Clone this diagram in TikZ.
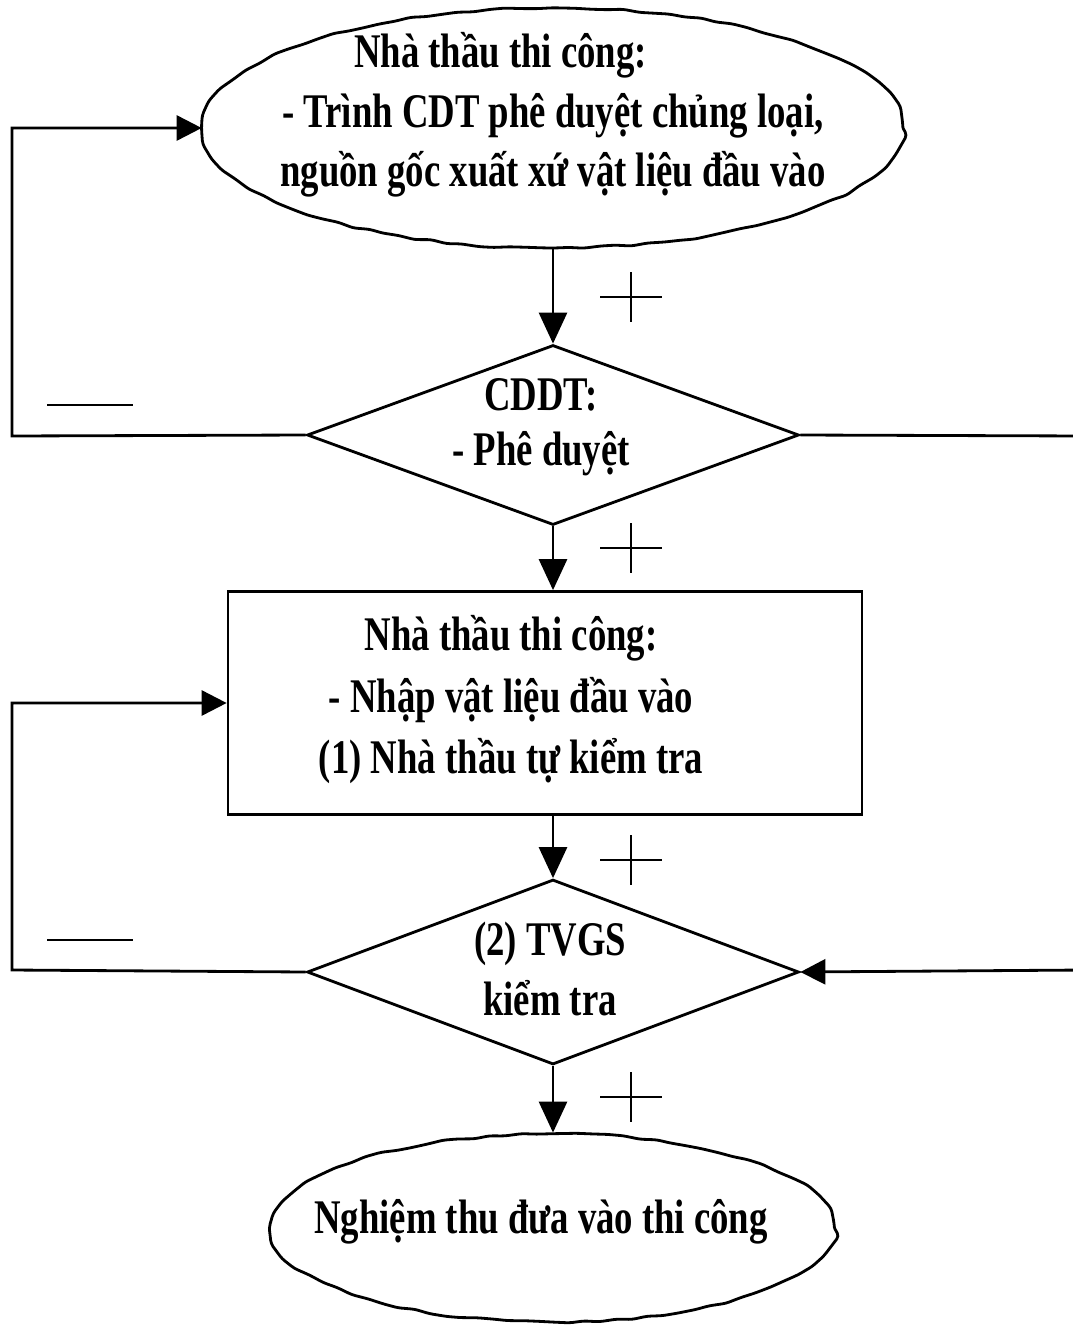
\documentclass[tikz,border=0pt]{standalone}
\usepackage{fontspec}
\usetikzlibrary{shapes.geometric,arrows.meta,decorations.pathmorphing}
\newfontfamily\diafont{Liberation Serif}[FakeStretch=0.76]
\begin{document}
\begin{tikzpicture}[x=0.02cm,y=-0.02cm,
  line width=1.6pt,
  flow/.style={-{Triangle[length=0.62cm,width=0.56cm]}},
  loop/.style={-{Triangle[length=0.5cm,width=0.5cm]}},
  txt/.style={align=center,font=\diafont\bfseries\fontsize{27.5}{34}\selectfont},
  oval/.style={draw,ellipse,inner sep=0pt,
    decorate,decoration={random steps,segment length=9pt,amplitude=0.7pt,
      pre length=3pt,post length=3pt},
    rounded corners=2pt},
  decide/.style={draw,diamond,inner sep=0pt,minimum width=9.84cm},
  sign/.style={line width=1.1pt},
  minus/.style={line width=1.3pt}]
\pgfmathsetseed{11}
\useasboundingbox (0,0) rectangle (1072,1325);

% start: contractor submits the material for approval
\node[oval,minimum width=14cm,minimum height=4.8cm] (e1) at (553,128) {};
\node[txt] (e1t) at (553,115) {Nhà thầu thi công:\hspace*{2.1cm}\\
  - Trình CDT phê duyệt chủng loại,\\
  nguồn gốc xuất xứ vật liệu đầu vào};

% approval by the investor
\node[decide,minimum height=3.6cm] (d1) at (553,435) {};
\node[txt,font=\diafont\bfseries\fontsize{27.5}{31}\selectfont] (d1t) at (541,427) {CDDT:\\- Phê duyệt};

% material import and self-check
\node[draw,rectangle,minimum width=12.68cm,minimum height=4.46cm] (r1) at (545,703) {};
\node[txt,font=\diafont\bfseries\fontsize{27.5}{35}\selectfont] (r1t) at (511,700)
  {Nhà thầu thi công:\\- Nhập vật liệu đầu vào\\(1) Nhà thầu tự kiểm tra};

% supervisor check
\node[decide,minimum height=3.7cm] (d2) at (553,972) {};
\node[txt] (d2t) at (550,969) {(2) TVGS\\kiểm tra};

% end: acceptance
\node[oval,minimum width=11.26cm,minimum height=3.76cm] (e2) at (553,1228) {};
\node[txt] (e2t) at (541,1222) {Nghiệm thu đưa vào thi công};

% main flow
\draw[flow] (e1.south) -- (d1.north);
\draw[flow] (d1.south) -- (r1.north -| d1.south);
\draw[flow] (r1.south -| d2.north) -- (d2.north);
\draw[flow] (d2.south) -- (e2.north);

% return loops on the left
\coordinate (l1) at (12,436);
\coordinate (l2) at (12,970);
\draw[loop] (d1.west) -- (l1) |- (e1.west);
\draw[loop] (d2.west) -- (l2) |- (r1.west |- 0,703);

% link on the right side
\coordinate (rt) at (1085,436);
\coordinate (rb) at (1085,970);
\draw[loop] (d1.east) -- (rt) -- (rb) -- (d2.east);

% yes / no marks
\foreach \y in {297,548,860,1097}
  \draw[sign] (600,\y) -- (662,\y) (631,\y-25) -- (631,\y+25);
\draw[minus] (47,405) -- (133,405);
\draw[minus] (47,940) -- (133,940);
\end{tikzpicture}
\end{document}
